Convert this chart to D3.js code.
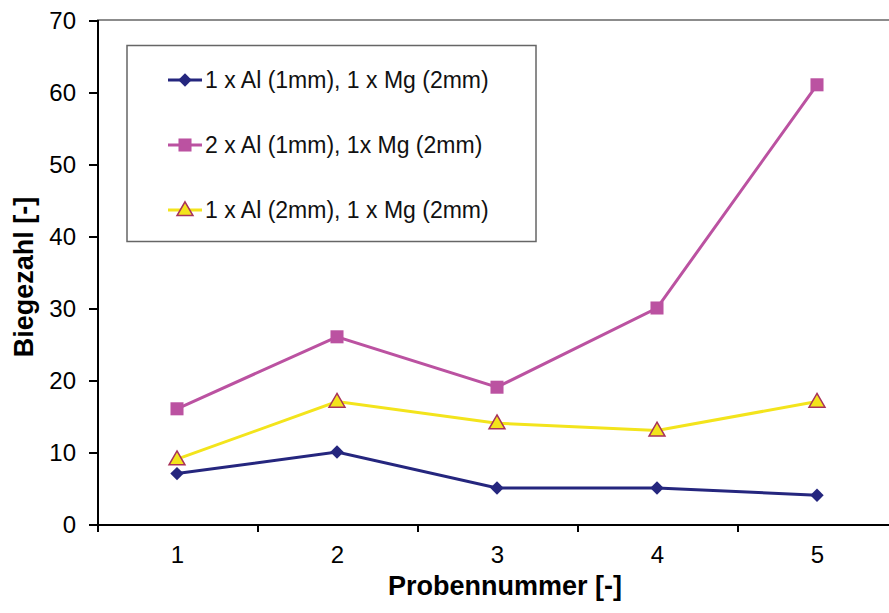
<!DOCTYPE html>
<html>
<head>
    <title>Biegezahl</title>
    <script src="https://d3js.org/d3.v7.min.js"></script>
    <style>
        body { margin: 0; background: #fff; }
        .axis path, .axis line { stroke: #000; stroke-width: 2; shape-rendering: crispEdges; }
        .axis text { font-family: Arial, "Liberation Sans", sans-serif; font-size: 24px; fill: #000; }
        .label { font-family: Arial, "Liberation Sans", sans-serif; font-size: 27px; font-weight: bold; }
        .legend text { font-family: Arial, "Liberation Sans", sans-serif; font-size: 23px; fill: #111; }
    </style>
</head>
<body>
    <svg width="889" height="613"></svg>
    <script>
        // Probennummer 1..5
        const proben = [1, 2, 3, 4, 5];
        const yTicks = [0, 10, 20, 30, 40, 50, 60, 70];

        const names = [
            "1 x Al (1mm), 1 x Mg (2mm)",
            "2 x Al (1mm), 1x Mg (2mm)",
            "1 x Al (2mm), 1 x Mg (2mm)"
        ];
        const serie1 = [7, 10, 5, 5, 4];
        const serie2 = [16, 26, 19, 30, 61];
        const serie3 = [9, 17, 14, 13, 17];

        const colors = ["#25267e", "#bb52a1", "#f3e41c"];
        const series = [serie1, serie2, serie3];

        const plotLeft = 97, plotRight = 897, plotTop = 20, plotBottom = 524;

        const svg = d3.select("svg");

        const x = d3.scaleLinear().domain([0.5, 5.5]).range([plotLeft, plotRight]);
        const y = d3.scaleLinear().domain([0, 70]).range([plotBottom, plotTop]);

        // top border of plot area
        svg.append("line")
            .attr("x1", plotLeft).attr("x2", plotRight)
            .attr("y1", y(70)).attr("y2", y(70))
            .attr("stroke", "#666").attr("stroke-width", 1.5);

        // y axis
        svg.append("g")
            .attr("class", "axis")
            .attr("transform", "translate(" + plotLeft + ",0)")
            .call(d3.axisLeft(y).tickValues(yTicks).tickSize(8).tickPadding(13))
            .call(g => g.selectAll("text").attr("dy", "0.36em"));

        // x axis: ticks between categories
        svg.append("g")
            .attr("class", "axis")
            .attr("transform", "translate(0," + plotBottom + ")")
            .call(d3.axisBottom(x).tickValues(d3.range(0.5, 6, 1)).tickSize(8).tickFormat("").tickSizeOuter(0));

        svg.append("g")
            .attr("class", "axis")
            .attr("transform", "translate(0," + plotBottom + ")")
            .call(d3.axisBottom(x).tickValues(proben).tickSize(0).tickPadding(22).tickFormat(d3.format("d")))
            .call(g => g.select(".domain").remove());

        // axis titles
        svg.append("text")
            .attr("class", "label")
            .attr("x", 505).attr("y", 595)
            .attr("text-anchor", "middle")
            .text("Probennummer [-]");

        svg.append("text")
            .attr("class", "label")
            .attr("transform", "translate(33,277) rotate(-90)")
            .attr("text-anchor", "middle")
            .text("Biegezahl [-]");

        const line = d3.line()
            .x((d, i) => x(proben[i]))
            .y(d => y(d));

        // marker: diamond (rotated square), square, triangle
        function drawMarker(sel, k) {
            if (k === 0) {
                sel.attr("d", d3.symbol().type(d3.symbolSquare).size(90))
                    .attr("fill", colors[0]);
            } else if (k === 1) {
                sel.attr("d", d3.symbol().type(d3.symbolSquare).size(170))
                    .attr("fill", colors[1]);
            } else {
                sel.attr("d", d3.symbol().type(d3.symbolTriangle).size(110))
                    .attr("fill", colors[2])
                    .attr("stroke", "#a8325a").attr("stroke-width", 1.5);
            }
        }

        function markerPos(px, py, k) {
            if (k === 0) return "translate(" + px + "," + py + ") rotate(45)";
            if (k === 2) return "translate(" + px + "," + (py + 1) + ")";
            return "translate(" + px + "," + py + ")";
        }

        series.forEach((s, k) => {
            svg.append("path")
                .datum(s)
                .attr("fill", "none")
                .attr("stroke", colors[k])
                .attr("stroke-width", 3)
                .attr("d", line);

            svg.selectAll(".m" + k)
                .data(s)
                .enter().append("path")
                .attr("class", "m" + k)
                .attr("transform", (d, i) => markerPos(x(proben[i]), y(d), k))
                .call(drawMarker, k);
        });

        // legend
        const legend = svg.append("g").attr("class", "legend");
        legend.append("rect")
            .attr("x", 127).attr("y", 45.5)
            .attr("width", 409).attr("height", 196)
            .attr("fill", "#fff").attr("stroke", "#666").attr("stroke-width", 1.5);

        const rowY = [80, 145, 210];
        names.forEach((n, k) => {
            const g = legend.append("g").attr("transform", "translate(0," + rowY[k] + ")");
            g.append("line")
                .attr("x1", 168).attr("x2", 202)
                .attr("stroke", colors[k]).attr("stroke-width", 3);
            g.append("path")
                .attr("transform", markerPos(185, 0, k))
                .call(drawMarker, k);
            g.append("text")
                .attr("x", 205).attr("dy", "0.36em")
                .text(n);
        });
    </script>
</body>
</html>
